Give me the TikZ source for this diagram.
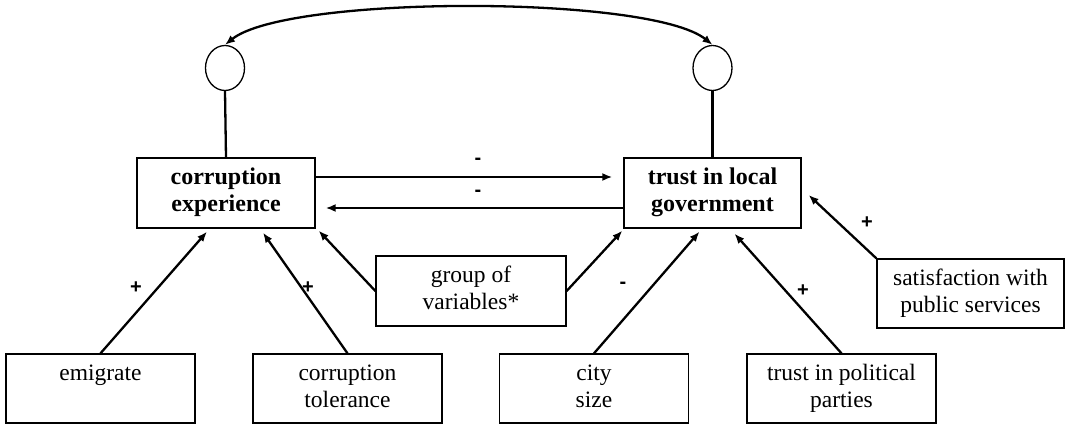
\documentclass[tikz,border=0pt]{standalone}
\usepackage{fontspec}
\setmainfont{Liberation Serif}
\newfontfamily\labfont{Liberation Sans}
\usetikzlibrary{arrows.meta,calc,shapes.geometric}
\begin{document}
\begin{tikzpicture}[x=1pt,y=-1pt,
  box/.style={draw,line width=1.3pt,rectangle,inner sep=0pt,align=center,
    font=\fontsize{23.5}{27}\selectfont},
  mainbox/.style={box,minimum width=178pt,minimum height=70pt,
    font=\fontsize{24}{27}\selectfont\bfseries},
  sidebox/.style={box,minimum width=189pt,minimum height=69pt},
  err/.style={draw,line width=1.3pt,ellipse,minimum width=39pt,minimum height=45pt,inner sep=0pt},
  link/.style={line width=2.3pt},
  arr/.style={line width=2.3pt,-{Latex[length=10pt,width=8pt]}},
  sign/.style={font=\labfont\bfseries\fontsize{20}{22}\selectfont,inner sep=0pt}]
\useasboundingbox (0,0) rectangle (1066,425);
% main boxes
\node[mainbox] (ce) at (226,193) {\strut corruption\\\strut experience};
\node[mainbox,minimum width=177pt] (tg) at (712.5,193) {\strut trust in local\\\strut government};
% error terms
\node[err] (c1) at (225,68) {};
\node[err] (c2) at (712.5,68) {};
% side boxes
\node[sidebox,minimum width=190pt,minimum height=70pt] (gv) at (471,291) {\strut group of\\\strut variables*};
\node[sidebox] (em) at (100.5,388.5) {\strut emigrate\\\strut};
\node[sidebox] (ct) at (347.5,388.5) {\strut corruption\\\strut tolerance};
\node[sidebox] (cs) at (594,388.5) {\strut city\\\strut size};
\node[sidebox] (tp) at (841.5,388.5) {\strut trust in political\\\strut parties};
\node[sidebox,minimum width=187pt] (ss) at (970.5,293.5) {\strut satisfaction with\\\strut public services};
% error links
\draw[link] (c1.south) -- (ce.north);
\draw[link] (c2.south) -- (tg.north);
\draw[line width=2.3pt,{Latex[length=10pt,width=8pt]}-{Latex[length=10pt,width=8pt]}]
  (c1.north) .. controls ($(c1.north)+(62,-50)$) and ($(c2.north)+(-62,-50)$) .. (c2.north);
% reciprocal arrows
\draw[arr] ($(ce.east)+(0,-16)$) -- ($(tg.west)+(-11,-16)$);
\draw[arr] ($(tg.west)+(0,15)$) -- ($(ce.east)+(10,15)$);
\node[sign] (m1) at (478,161) {-};
\node[sign] (m2) at (478,193) {-};
% predictors
\draw[arr] (em.north) -- ($(ce.south)+(-19,3)$);
\draw[arr] (ct.north) -- ($(ce.south)+(37,4)$);
\draw[arr] (gv.west) -- ($(ce.south east)+(3,2)$);
\draw[arr] (gv.east) -- ($(tg.south west)+(-1,2)$);
\draw[arr] (cs.north) -- ($(tg.south)+(-13,3)$);
\draw[arr] (tp.north) -- ($(tg.south)+(22,5)$);
\draw[arr] (ss.north west) -- ($(tg.east)+(7,2)$);
\node[sign] (p1) at (136,288) {+};
\node[sign] (p2) at (308,288) {+};
\node[sign] (m3) at (623,285) {-};
\node[sign] (p3) at (803,291) {+};
\node[sign] (p4) at (867,223) {+};
\end{tikzpicture}
\end{document}
